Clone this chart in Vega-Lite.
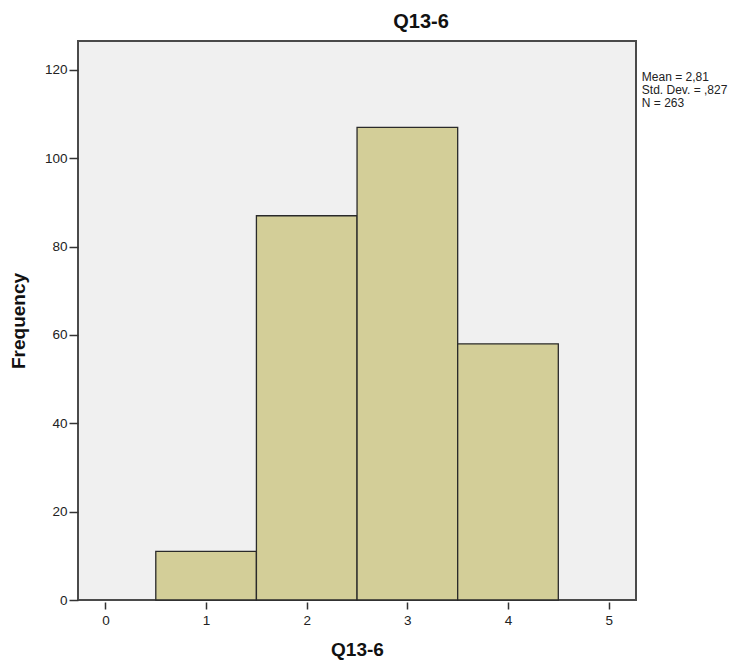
{
  "$schema": "https://vega.github.io/schema/vega-lite/v6.json",
  "width": 558,
  "height": 559,
  "autosize": {"type": "none"},
  "padding": {"left": 78, "top": 41, "right": 116, "bottom": 62},
  "background": "white",
  "config": {
    "font": "Liberation Sans",
    "view": {"fill": "#F0F0F0", "stroke": "#4a4a4a", "strokeWidth": 2}
  },
  "title": {
    "text": "Q13-6",
    "anchor": "middle",
    "dx": 64,
    "offset": 9,
    "fontSize": 20,
    "fontWeight": "bold",
    "color": "#111"
  },
  "datasets": {
    "bins": [
      {"bin_start": 0.5, "bin_end": 1.5, "count": 11},
      {"bin_start": 1.5, "bin_end": 2.5, "count": 87},
      {"bin_start": 2.5, "bin_end": 3.5, "count": 107},
      {"bin_start": 3.5, "bin_end": 4.5, "count": 58}
    ],
    "stats": [
      {"x": 5.33, "y": 119.6, "label": ["Mean = 2,81", "Std. Dev. = ,827", "N = 263"]}
    ]
  },
  "layer": [
    {
      "data": {"name": "bins"},
      "mark": {"type": "rect", "fill": "#D3CE98", "stroke": "#2a2a2a", "strokeWidth": 1.3},
      "encoding": {
        "x": {
          "field": "bin_start",
          "type": "quantitative",
          "scale": {"domain": [-0.273, 5.272], "nice": false, "zero": false},
          "axis": {
            "values": [0, 1, 2, 3, 4, 5],
            "format": "d",
            "title": "Q13-6",
            "titleFontSize": 19,
            "titleFontWeight": "bold",
            "titleColor": "#111",
            "titlePadding": 14,
            "domain": false,
            "grid": false,
            "offset": 2,
            "tickSize": 7,
            "tickWidth": 1.5,
            "tickColor": "#333",
            "labelFontSize": 13.5,
            "labelColor": "#222",
            "labelPadding": 4,
            "labelFlush": false
          }
        },
        "x2": {"field": "bin_end"},
        "y": {
          "field": "count",
          "type": "quantitative",
          "scale": {"domain": [0, 126.56], "nice": false},
          "axis": {
            "values": [0, 20, 40, 60, 80, 100, 120],
            "format": "d",
            "title": "Frequency",
            "titleFontSize": 19,
            "titleFontWeight": "bold",
            "titleColor": "#111",
            "titlePadding": 16,
            "domain": false,
            "grid": false,
            "tickSize": 9,
            "tickWidth": 1.5,
            "tickColor": "#333",
            "labelFontSize": 13.5,
            "labelColor": "#222",
            "labelPadding": 2,
            "labelFlush": false
          }
        },
        "y2": {"datum": 0}
      }
    },
    {
      "data": {"name": "stats"},
      "mark": {"type": "text", "align": "left", "baseline": "top", "fontSize": 12, "lineHeight": 13, "color": "#222"},
      "encoding": {
        "x": {"field": "x", "type": "quantitative"},
        "y": {"field": "y", "type": "quantitative"},
        "text": {"field": "label"}
      }
    }
  ]
}
